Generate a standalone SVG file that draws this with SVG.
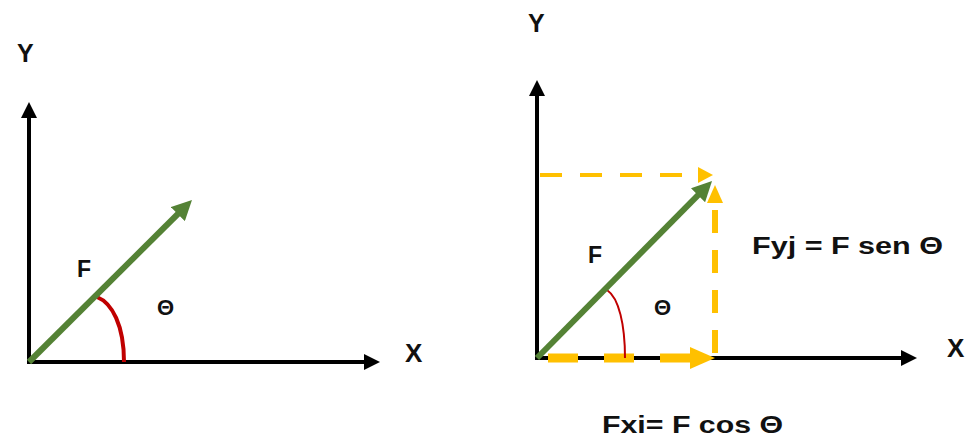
<svg xmlns="http://www.w3.org/2000/svg" width="969" height="445" viewBox="0 0 969 445">
<style>
.t{font-family:"Liberation Sans",Arial,sans-serif;font-weight:bold;fill:#111}
.ax{stroke:#000;stroke-width:4;fill:none}
.gr{stroke:#548235;stroke-width:6;fill:none}
.yl{stroke:#FFC000;fill:none}
</style>
<defs>
<marker id="ak" viewBox="0 0 16 16" refX="8" refY="8" markerWidth="16" markerHeight="16" markerUnits="userSpaceOnUse" orient="auto"><path d="M0,0 L16,8 L0,16 z" fill="#000"/></marker>
<marker id="ag" viewBox="0 0 20 20" refX="10" refY="10" markerWidth="20" markerHeight="20" markerUnits="userSpaceOnUse" orient="auto"><path d="M0,0 L20,10 L0,20 z" fill="#548235"/></marker>
</defs>
<rect width="969" height="445" fill="#fff"/>
<g id="connectors">
<!-- left diagram -->
<line class="ax" x1="29" y1="364" x2="29" y2="110" marker-end="url(#ak)"/>
<line class="ax" x1="27" y1="362" x2="372" y2="362" marker-end="url(#ak)"/>
<path d="M97,297 C112,303 124,325 124,362" stroke="#C00000" stroke-width="4" fill="none"/>
<line class="gr" x1="29" y1="362" x2="184.9" y2="207" marker-end="url(#ag)"/>
<!-- right diagram -->
<line class="ax" x1="537" y1="360" x2="537" y2="88" marker-end="url(#ak)"/>
<line class="ax" x1="535" y1="358" x2="909" y2="358" marker-end="url(#ak)"/>
<line class="yl" x1="540" y1="175" x2="698" y2="175" stroke-width="4" stroke-dasharray="22 18"/>
<polygon points="698,167 713,175 698,183" fill="#FFC000"/>
<line class="yl" x1="715" y1="353" x2="715" y2="203" stroke-width="6" stroke-dasharray="23 17"/>
<polygon points="707,203 715,185 723,203" fill="#FFC000"/>
<line class="yl" x1="548" y1="358" x2="690" y2="358" stroke-width="9" stroke-dasharray="30 26"/>
<polygon points="690,347 715,358 690,369" fill="#FFC000"/>
<path d="M607,290 C619,298 625,325 625,358" stroke="#C00000" stroke-width="2" fill="none"/>
<line class="gr" x1="537" y1="358" x2="705" y2="188.1" marker-end="url(#ag)"/>
</g>
<g id="labels-left">
<text class="t" x="17" y="62" font-size="25">Y</text>
<text class="t" x="405" y="362" font-size="26">X</text>
<text class="t" x="77" y="277" font-size="23">F</text>
<text class="t" x="157" y="315" font-size="22">Θ</text>
</g>
<g id="labels-right">
<text class="t" x="528" y="32" font-size="25">Y</text>
<text class="t" x="947" y="357" font-size="26">X</text>
<text class="t" x="588" y="263" font-size="23">F</text>
<text class="t" x="654" y="315" font-size="22">Θ</text>
<text class="t" x="752" y="254" font-size="23" textLength="191" lengthAdjust="spacingAndGlyphs">Fyj = F sen Θ</text>
<text class="t" x="602" y="433" font-size="24" textLength="181" lengthAdjust="spacingAndGlyphs">Fxi= F cos Θ</text>
</g>
</svg>
